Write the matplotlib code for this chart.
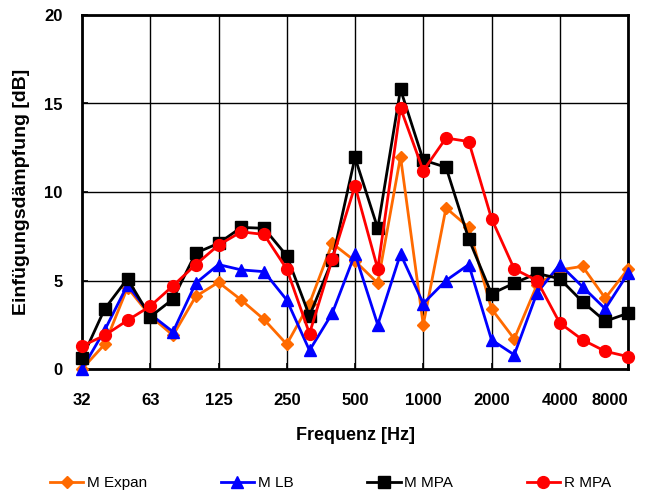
import matplotlib
matplotlib.use("Agg")
import matplotlib.pyplot as plt
import numpy as np

plt.rcParams['font.family'] = ['Liberation Sans', 'DejaVu Sans']

freqs = ["32", "40", "50", "63", "80", "100", "125", "160", "200", "250", "315", "400",
         "500", "630", "800", "1000", "1250", "1600", "2000", "2500", "3150", "4000",
         "5000", "6300", "8000"]
tick_labels = ["32", "63", "125", "250", "500", "1000", "2000", "4000", "8000"]

m_expan = [0.0, 1.4, 4.6, 3.0, 1.9, 4.1, 4.9, 3.9, 2.8, 1.4, 3.7, 7.1,
           6.1, 4.85, 12.0, 2.5, 9.1, 8.0, 3.4, 1.7, 4.75, 5.6, 5.8, 4.0, 5.65]
m_lb = [0.0, 2.2, 4.75, 3.1, 2.1, 4.85, 5.9, 5.6, 5.5, 3.9, 1.05, 3.15,
        6.5, 2.5, 6.5, 3.7, 5.0, 5.9, 1.65, 0.8, 4.3, 5.9, 4.65, 3.4, 5.4]
m_mpa = [0.6, 3.4, 5.1, 2.95, 3.95, 6.55, 7.1, 8.0, 7.95, 6.4, 3.0, 6.15,
         11.95, 7.95, 15.8, 11.8, 11.4, 7.35, 4.25, 4.85, 5.4, 5.1, 3.8, 2.7, 3.15]
r_mpa = [1.3, 1.9, 2.75, 3.55, 4.7, 5.9, 7.0, 7.75, 7.6, 5.65, 2.0, 6.2,
         10.35, 5.65, 14.75, 11.2, 13.05, 12.85, 8.5, 5.65, 5.0, 2.6, 1.65, 1.0, 0.7]

fig = plt.figure(figsize=(6.65, 4.9), dpi=100)
ax = fig.add_axes([82/665, 1-369/490, (628-82)/665, (369-15)/490])

x = np.arange(len(freqs))
ax.plot(x, m_expan, color='#FF6A00', marker='D', markersize=6, lw=2, label='M Expan', zorder=3, clip_on=False)
ax.plot(x, m_lb, color='#0000FF', marker='^', markersize=8, lw=2, label='M LB', zorder=4, clip_on=False)
ax.plot(x, m_mpa, color='black', marker='s', markersize=8, lw=2, label='M MPA', zorder=5, clip_on=False)
ax.plot(x, r_mpa, color='#FF0000', marker='o', markersize=8.5, lw=2, label='R MPA', zorder=6, clip_on=False)

ax.set_xlim(0, len(freqs)-1)
ax.set_ylim(0, 20)
tick_pos = [freqs.index(t) for t in tick_labels]
ax.set_xticks(tick_pos)
xl = ax.set_xticklabels(tick_labels, fontsize=12, fontweight='bold')
xl[-1].set_ha('right')
ax.set_yticks([0, 5, 10, 15, 20])
ax.set_yticklabels(["0", "5", "10", "15", "20"], fontsize=12, fontweight='bold')
ax.tick_params(axis='x', direction='in', length=4, width=1.2, pad=17)
ax.tick_params(axis='y', direction='in', length=4, width=1.2, pad=14)
ax.grid(True, color='black', lw=1.0)
ax.set_axisbelow(True)
for s in ax.spines.values():
    s.set_linewidth(2)
ax.set_xlabel("Frequenz [Hz]", fontsize=13, fontweight='bold', labelpad=14)
ax.set_ylabel("Einfügungsdämpfung [dB]", fontsize=14, fontweight='bold', labelpad=10)

fig.legend(loc='center', bbox_to_anchor=(0.497, 1-483/490), ncol=4, frameon=False,
           fontsize=11, handlelength=2.2, handletextpad=0.25, columnspacing=4.8)

fig.savefig("out.png", dpi=100)
